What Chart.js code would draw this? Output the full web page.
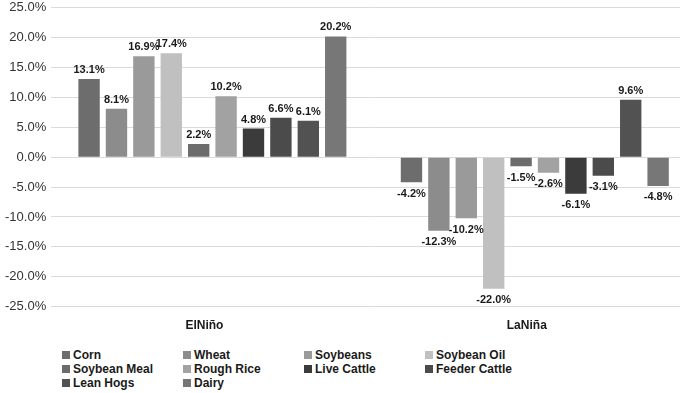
<!DOCTYPE html>
<html>
<head>
<meta charset="utf-8">
<script src="https://cdn.jsdelivr.net/npm/chart.js@4"></script>
<style>
  body { margin: 0; background: #fff; overflow: hidden; width: 680px; height: 393px; position: relative; }
  #wrap { position: absolute; left: 0; top: -5px; width: 696px; height: 348px; }
  #legend {
    position: absolute; left: 62px; top: 348px;
    display: grid;
    grid-template-columns: 121px 121px 121px 121px;
    font: bold 12px "Liberation Sans", Arial, sans-serif;
    color: #1a1a1a;
  }
  #legend div { height: 14px; line-height: 14px; white-space: nowrap; }
  #legend span { display: inline-block; width: 8px; height: 8px; margin-right: 3px; }
</style>
</head>
<body>
<div id="wrap"><canvas id="chart"></canvas></div>
<div id="legend"></div>
<script>
// phases on the x axis
const phases = ["ElNiño", "LaNiña"];

// commodities (one dataset each)
const commodities = ["Corn", "Wheat", "Soybeans", "Soybean Oil", "Soybean Meal",
  "Rough Rice", "Live Cattle", "Feeder Cattle", "Lean Hogs", "Dairy"];

// % change, [ElNiño, LaNiña]
const corn = [13.1, -4.2];
const wheat = [8.1, -12.3];
const soybeans = [16.9, -10.2];
const soybeanOil = [17.4, -22.0];
const soybeanMeal = [2.2, -1.5];
const roughRice = [10.2, -2.6];
const liveCattle = [4.8, -6.1];
const feederCattle = [6.6, -3.1];
const leanHogs = [6.1, 9.6];
const dairy = [20.2, -4.8];

const yTicks = [25, 20, 15, 10, 5, 0, -5, -10, -15, -20, -25];

const series = [corn, wheat, soybeans, soybeanOil, soybeanMeal,
  roughRice, liveCattle, feederCattle, leanHogs, dairy];
const greys = ["#6d6d6d", "#8c8c8c", "#9a9a9a", "#c0c0c0", "#6c6c6c",
  "#a2a2a2", "#3b3b3b", "#4b4b4b", "#525252", "#777777"];

// value labels above / below each bar
const valueLabels = {
  id: "valueLabels",
  afterDatasetsDraw(chart) {
    const ctx = chart.ctx;
    ctx.save();
    ctx.font = "bold 11px 'Liberation Sans', Arial, sans-serif";
    ctx.fillStyle = "#1a1a1a";
    ctx.textAlign = "center";
    chart.data.datasets.forEach((ds, i) => {
      chart.getDatasetMeta(i).data.forEach((bar, j) => {
        const v = ds.data[j];
        const txt = v.toFixed(1) + "%";
        if (v >= 0) {
          ctx.textBaseline = "alphabetic";
          ctx.fillText(txt, bar.x, bar.y - 6);
        } else {
          ctx.textBaseline = "top";
          ctx.fillText(txt, bar.x, bar.y + 6);
        }
      });
    });
    ctx.restore();
  }
};

const ctx = document.getElementById("chart");
new Chart(ctx, {
  type: "bar",
  data: {
    labels: phases,
    datasets: commodities.map((name, i) => ({
      label: name,
      data: series[i],
      backgroundColor: greys[i],
      barPercentage: 0.78,
      categoryPercentage: 0.85
    }))
  },
  options: {
    responsive: true,
    maintainAspectRatio: false,
    animation: false,
    layout: {padding: {top: 0, right: 0, left: 0, bottom: 6}},
    plugins: {
      legend: {display: false},
      tooltip: {enabled: false}
    },
    scales: {
      x: {
        grid: {display: false},
        border: {display: false},
        ticks: {
          color: "#1a1a1a",
          font: {family: "Liberation Sans", size: 12, weight: "bold"},
          padding: 4,
          labelOffset: -8
        }
      },
      y: {
        min: -25,
        max: 25,
        afterBuildTicks(axis) { axis.ticks = yTicks.map(v => ({value: v})); },
        grid: {color: "#dadada", lineWidth: 1, drawTicks: false},
        border: {display: false},
        ticks: {
          color: "#333",
          font: {family: "Liberation Sans", size: 13},
          padding: 5,
          callback: v => v.toFixed(1) + "%"
        }
      }
    }
  },
  plugins: [valueLabels]
});

// legend as a 4-column grid, like the original
const legend = document.getElementById("legend");
commodities.forEach((name, i) => {
  const item = document.createElement("div");
  item.innerHTML = '<span style="background:' + greys[i] + '"></span>' + name;
  legend.appendChild(item);
});
</script>
</body>
</html>
